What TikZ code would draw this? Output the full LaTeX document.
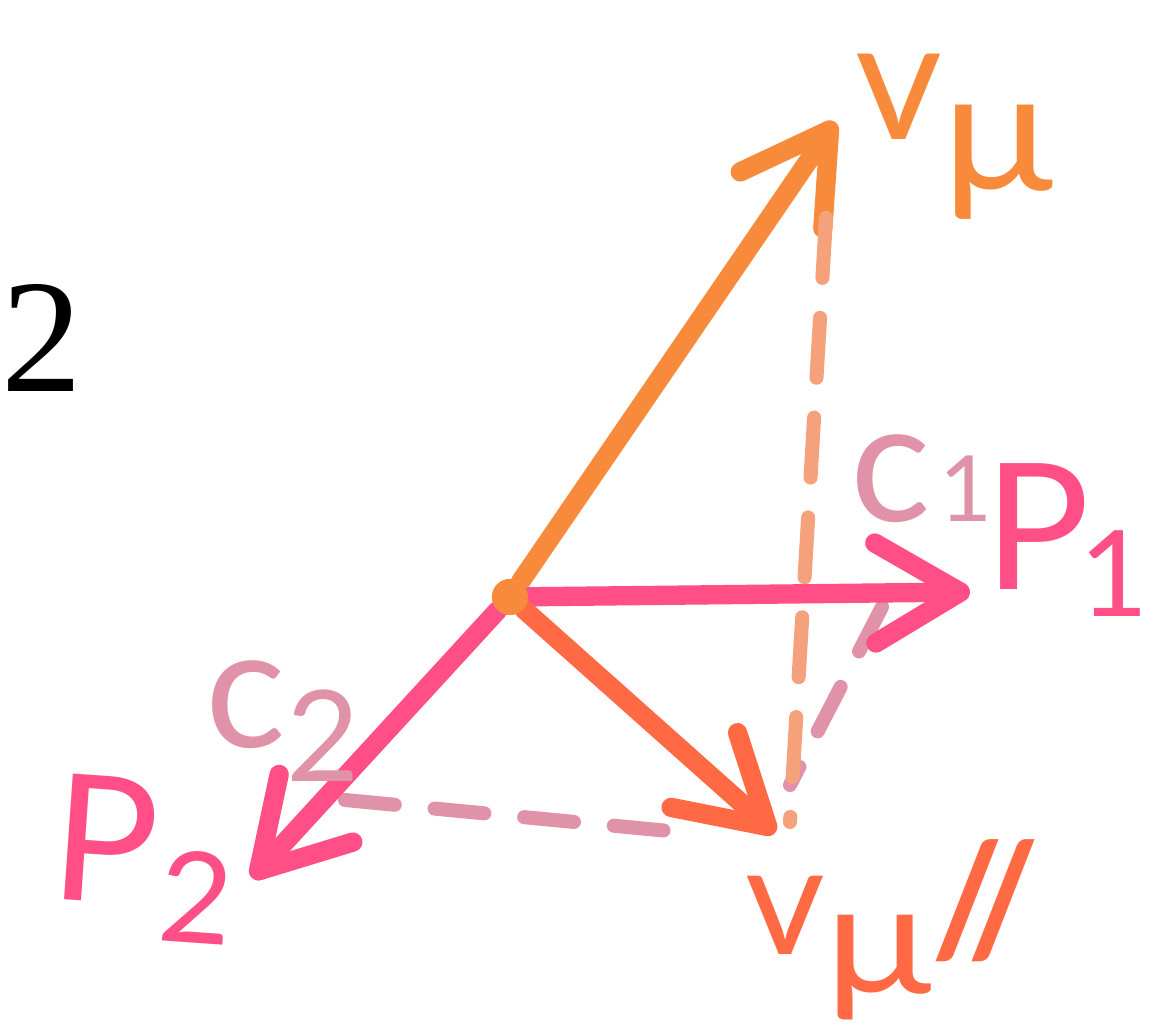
\documentclass[tikz,border=0pt]{standalone}
\usepackage{fontspec}
\setmainfont{Liberation Serif}
\newfontfamily\handfont{Lato}
\usetikzlibrary{arrows.meta, positioning}
\definecolor{corange}{HTML}{F88A3C}
\definecolor{cpink}{HTML}{FF4F86}
\definecolor{cred}{HTML}{FF6A45}
\definecolor{cpeach}{HTML}{F5A27C}
\definecolor{cmauve}{HTML}{E092A8}
\begin{document}
\begin{tikzpicture}[
  x=0.1mm, y=-0.1mm,
  font=\handfont\fontsize{50}{50}\selectfont,
  vec/.style={line width=5.5pt, line cap=round,
              -{Straight Barb[length=8.5mm, width=10mm, line width=5.5pt, round]}},
  proj/.style={line width=4pt, line cap=round, dash pattern=on 5mm off 4mm},
  lbl/.style={inner sep=0pt, anchor=base west},
  dot/.style={circle, fill=corange, minimum size=3.6mm, inner sep=0pt},
]
\useasboundingbox (0,0) rectangle (1158,1033);

% origin and vector tips
\node[dot] (o) at (510,597) {};
\coordinate (vmu)  at (835,122);
\coordinate (p1)   at (970,592);
\coordinate (p2)   at (252,878);
\coordinate (vpar) at (775,833);

% ends of the projection lines
\coordinate (a1) at (826,218);
\coordinate (a2) at (790,822);
\coordinate (b1) at (882,607);
\coordinate (b2) at (790,785);
\coordinate (d1) at (345,800);
\coordinate (d2) at (700,834);

\draw[proj, draw=cmauve] (b1)--(b2);
\draw[proj, draw=cmauve] (d1)--(d2);
\draw[vec, draw=corange] (o)--(vmu);
\draw[vec, draw=cpink] (o)--(p1);
\draw[vec, draw=cpink] (o)--(p2);
\draw[vec, draw=cred] (o)--(vpar);
\draw[proj, draw=cpeach, dash pattern=on 6mm off 4mm] (a1)--(a2);
\node[dot] at (o) {};

% labels
\node[inner sep=0pt, font=\rmfamily\fontsize{46}{46}\selectfont] (num) at (42,338) {2};
\node[lbl, text=corange, font=\handfont\fontsize{48}{48}\selectfont] (lvmu) at (855,140)
  {v\raisebox{-0.3em}{\scalebox{1.1}[1]{μ}}};
\node[lbl, text=cmauve, font=\handfont\fontsize{48}{48}\selectfont] (lc1) at (850,522)
  {c\kern0.05em{\fontsize{26}{26}\selectfont 1}};
\node[lbl, text=cpink] (lp1) at (984,590)
  {P\kern-0.06em\raisebox{-0.15em}{\fontsize{34}{34}\selectfont 1}};
\node[lbl, text=cmauve, font=\handfont\fontsize{48}{48}\selectfont] (lc2) at (205,748)
  {c\raisebox{-0.2em}{\fontsize{36}{36}\selectfont 2}};
\node[lbl, text=cpink, rotate=-4] (lp2) at (48,898)
  {P\kern0.03em\raisebox{-0.2em}{\fontsize{36}{36}\selectfont 2}};
\node[lbl, text=cred, font=\handfont\fontsize{44}{44}\selectfont] (lvpar) at (745,955)
  {v\raisebox{-0.25em}{\scalebox{1.15}[1]{μ}}{\bfseries//}};
\end{tikzpicture}
\end{document}
